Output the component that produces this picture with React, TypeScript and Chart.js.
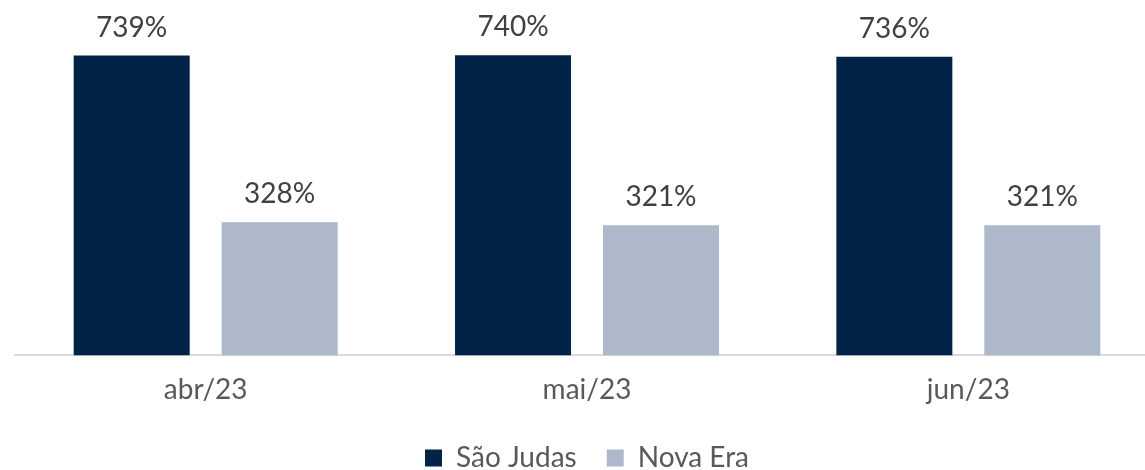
import React, { useEffect, useRef } from "react";
import { Chart, registerables } from "chart.js";

Chart.register(...registerables);

const categories = ["abr/23", "mai/23", "jun/23"];
const saoJudas = [739, 740, 736];
const novaEra = [328, 321, 321];
const seriesNames = ["São Judas", "Nova Era"];

const FONT = "Lato, 'Open Sans', sans-serif";

const valueLabels = {
  id: "valueLabels",
  afterDatasetsDraw(chart: any) {
    const ctx = chart.ctx;
    ctx.save();
    ctx.font = `28px ${FONT}`;
    ctx.fillStyle = "#404040";
    ctx.textAlign = "center";
    ctx.textBaseline = "bottom";
    chart.data.datasets.forEach((ds: any, di: number) => {
      const meta = chart.getDatasetMeta(di);
      meta.data.forEach((bar: any, i: number) => {
        ctx.fillText(`${ds.data[i]}%`, bar.x, bar.y - 14);
      });
    });
    ctx.restore();
  },
};

const legendTrim = {
  id: "legendTrim",
  beforeInit(chart: any) {
    const legend = chart.legend;
    if (!legend) return;
    const origFit = legend.fit.bind(legend);
    legend.fit = function () {
      origFit();
      this.height = Math.max(0, this.height - 12);
    };
  },
};

export default function App() {
  const ref = useRef<HTMLCanvasElement>(null);
  useEffect(() => {
    if (!ref.current) return;
    const chart = new Chart(ref.current, {
      type: "bar",
      data: {
        labels: categories,
        datasets: [
          { label: seriesNames[0], data: saoJudas, backgroundColor: "#002347", categoryPercentage: 0.776, barPercentage: 0.784 },
          { label: seriesNames[1], data: novaEra, backgroundColor: "#ADB9CA", categoryPercentage: 0.776, barPercentage: 0.784 },
        ],
      },
      options: {
        responsive: false,
        animation: false,
        layout: { padding: { left: 15, right: 1, top: 0, bottom: 0 } },
        plugins: {
          tooltip: { enabled: false },
          legend: {
            position: "bottom",
            labels: {
              boxWidth: 17,
              boxHeight: 17,
              padding: 30,
              color: "#595959",
              font: { family: FONT, size: 28 },
            },
          },
        },
        scales: {
          x: {
            grid: { display: false },
            border: { display: true, color: "#D9D9D9", width: 2 },
            ticks: { color: "#595959", font: { family: FONT, size: 28 }, padding: 10 },
            afterFit: (scale: any) => {
              scale.height = scale.height - 3;
            },
          },
          y: {
            display: false,
            min: 0,
            max: 876,
          },
        },
      },
      plugins: [legendTrim, valueLabels],
    });
    return () => chart.destroy();
  }, []);
  return (
    <div style={{ position: "fixed", left: 0, top: 0, width: 1145, height: 470, overflow: "hidden", background: "#fff" }}>
      <canvas ref={ref} width={1160} height={470} style={{ display: "block" }} />
    </div>
  );
}
